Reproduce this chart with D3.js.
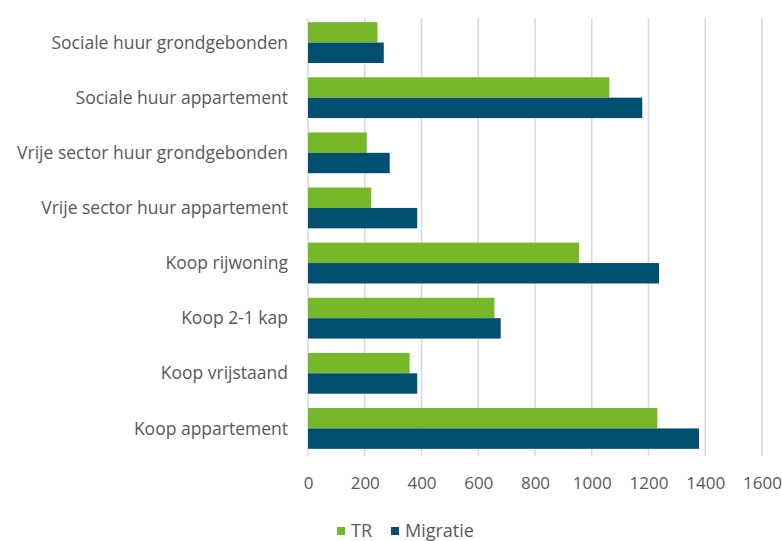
<!DOCTYPE html>
<html>
<head>
<meta charset="utf-8">
<title>TR vs Migratie</title>
<style>
	body { margin: 0; background: #fff; }
	svg text { font-family: "Open Sans", "Noto Sans", sans-serif; fill: #595959; }
	.grid line { stroke: #d9d9d9; stroke-width: 1.5; }
</style>
<script src="https://d3js.org/d3.v7.min.js"></script>
</head>
<body>
<svg id="chart" width="782" height="541"></svg>
<script>
	const categories = [
		'Sociale huur grondgebonden',
		'Sociale huur appartement',
		'Vrije sector huur grondgebonden',
		'Vrije sector huur appartement',
		'Koop rijwoning',
		'Koop 2-1 kap',
		'Koop vrijstaand',
		'Koop appartement'
	];
	const seriesNames = ['TR', 'Migratie'];
	const trValues = [245, 1062, 207, 223, 955, 657, 358, 1231];
	const migratieValues = [267, 1178, 288, 385, 1237, 679, 385, 1378];
	const xTicks = [0, 200, 400, 600, 800, 1000, 1200, 1400, 1600];
	const colors = ['#76b82a', '#004f71'];

	const svg = d3.select('#chart');
	const plotLeft = 308, plotRight = 762, plotTop = 15, plotBottom = 456;

	const x = d3.scaleLinear().domain([0, 1600]).range([plotLeft, plotRight]);
	const y = d3.scaleBand().domain(categories).range([plotTop, plotBottom]).paddingInner(0.26).paddingOuter(0.13);
	const sub = d3.scaleBand().domain(seriesNames).range([0, y.bandwidth()]);

	// vertical gridlines
	svg.append('g').attr('class', 'grid')
		.selectAll('line').data(xTicks).join('line')
		.attr('x1', d => x(d)).attr('x2', d => x(d))
		.attr('y1', plotTop + 3).attr('y2', plotBottom);

	const rows = categories.map((c, i) => ({cat: c, vals: [trValues[i], migratieValues[i]]}));

	const g = svg.append('g').selectAll('g').data(rows).join('g')
		.attr('transform', d => `translate(0,${y(d.cat)})`);

	g.selectAll('rect').data(d => d.vals.map((v, j) => ({name: seriesNames[j], v, j}))).join('rect')
		.attr('x', x(0))
		.attr('y', d => sub(d.name))
		.attr('width', d => x(d.v) - x(0))
		.attr('height', sub.bandwidth())
		.attr('fill', d => colors[d.j]);

	// category labels
	svg.append('g').selectAll('text').data(categories).join('text')
		.attr('x', 288)
		.attr('y', d => y(d) + y.bandwidth() / 2)
		.attr('dy', '0.35em')
		.attr('text-anchor', 'end')
		.attr('font-size', 17.5)
		.text(d => d);

	// x tick labels
	const xAxis = d3.axisBottom(x).tickValues(xTicks).tickFormat(d3.format('d')).tickSize(0).tickPadding(0);
	const ax = svg.append('g').attr('transform', `translate(0,${plotBottom + 27})`).call(xAxis);
	ax.select('.domain').remove();
	ax.selectAll('text').attr('font-size', 17).attr('font-family', null).attr('fill', '#595959').attr('dy', '0.35em');

	// legend
	const legend = svg.append('g').attr('transform', 'translate(337,527)');
	const items = [{name: 'TR', x: 0}, {name: 'Migratie', x: 54}];
	items.forEach((it, i) => {
		legend.append('rect').attr('x', it.x).attr('y', 0).attr('width', 8).attr('height', 8).attr('fill', colors[i]);
		legend.append('text').attr('x', it.x + 14).attr('y', 10)
			.attr('font-size', 18).text(it.name);
	});
</script>
</body>
</html>
